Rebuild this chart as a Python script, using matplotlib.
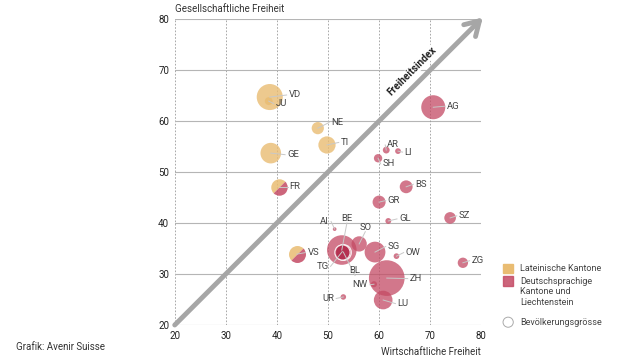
import numpy as np
import matplotlib
matplotlib.use("Agg")
import matplotlib.pyplot as plt
from matplotlib.markers import MarkerStyle
from matplotlib.transforms import Affine2D

plt.rcParams['font.family'] = ['Roboto', 'DejaVu Sans']

# --- data ---
# cantons: code, wirtschaftliche freiheit (x), gesellschaftliche freiheit (y), population (thousands)
latin = ["VD", "JU", "NE", "TI", "GE"]
latin_x = [38.6, 38.4, 48.0, 49.8, 38.8]
latin_y = [64.7, 63.9, 58.6, 55.3, 53.7]
latin_pop = [800, 73, 176, 350, 500]

german = ["AG", "AR", "LI", "SH", "BS", "GR", "GL", "SZ", "AI", "BE", "SO",
          "SG", "OW", "ZG", "ZH", "NW", "UR", "LU", "TG", "BL"]
german_x = [70.6, 61.4, 63.7, 59.8, 65.3, 60.0, 61.8, 73.9, 51.3, 52.7, 56.1,
            59.2, 63.4, 76.4, 61.5, 59.0, 53.0, 60.8, 52.8, 53.0]
german_y = [62.7, 54.3, 54.1, 52.7, 47.1, 44.1, 40.4, 41.0, 38.8, 34.7, 35.9,
            34.3, 33.5, 32.2, 29.2, 28.0, 25.5, 24.9, 34.4, 34.3]
german_pop = [680, 55, 39, 82, 195, 200, 40, 160, 16, 1030, 275,
              510, 38, 126, 1500, 43, 36, 410, 275, 290]

# bilingual cantons (half latin, half german)
mixed = ["FR", "VS"]
mixed_x = [40.4, 43.9]
mixed_y = [47.1, 33.9]
mixed_pop = [320, 340]

# label positions (x, y, alignment)
labels = {
    "VD": (42.3, 65.1, "left"), "JU": (39.8, 63.4, "left"), "NE": (50.6, 59.7, "left"),
    "TI": (52.5, 55.8, "left"), "GE": (42.0, 53.4, "left"), "FR": (42.5, 47.1, "left"),
    "VS": (46.0, 34.2, "left"), "AG": (73.3, 62.9, "left"), "AR": (61.6, 55.3, "left"),
    "LI": (65.0, 53.9, "left"), "SH": (60.7, 51.6, "left"), "BS": (67.1, 47.6, "left"),
    "GR": (61.7, 44.4, "left"), "GL": (63.9, 40.8, "left"), "SZ": (75.6, 41.4, "left"),
    "ZG": (78.1, 32.6, "left"), "OW": (65.2, 34.2, "left"), "SG": (61.7, 35.4, "left"),
    "SO": (57.3, 39.2, "center"), "BE": (53.7, 40.9, "center"), "AI": (50.2, 40.3, "right"),
    "TG": (50.1, 31.5, "right"), "BL": (55.3, 30.6, "center"), "ZH": (66.0, 29.1, "left"),
    "NW": (57.8, 27.9, "right"), "UR": (51.2, 25.2, "right"), "LU": (63.6, 24.2, "left"),
}

ORANGE = "#E9BC72"
RED = "#C44A64"
GREY = "#a6a6a6"
TXT = "#444444"

def size(pop):
    return 0.44 * np.asarray(pop)

fig = plt.figure(figsize=(6.4, 3.6), dpi=100)
ax = fig.add_axes([0.273, 0.0972, 0.479, 0.85])
ax.set_xlim(20, 80)
ax.set_ylim(20, 80)

ticks = [20, 30, 40, 50, 60, 70, 80]
for t in ticks:
    ax.axhline(t, color="#b5b5b5", lw=0.8, zorder=0)
    ax.axvline(t, color="#9a9a9a", lw=0.6, ls=(0, (2, 2)), zorder=0)
ax.set_xticks(ticks)
ax.set_yticks(ticks)
ax.tick_params(length=0, labelsize=7, colors="#222222", pad=4)
for s in ax.spines.values():
    s.set_visible(False)

# freiheitsindex arrow
ax.annotate("", xy=(80.3, 80.3), xytext=(20, 20), annotation_clip=False,
            arrowprops=dict(arrowstyle="->, head_length=1.0, head_width=0.6",
                            color=GREY, lw=3.5, shrinkA=0, shrinkB=0), zorder=1)
ax.text(66.5, 69.8, "Freiheitsindex", rotation=45, ha="center", va="center",
        fontsize=7.3, fontweight="bold", color="#222222", zorder=2,
        bbox=dict(fc="white", ec="none", pad=0.5))

# bubbles
big_first = np.argsort(latin_pop)[::-1]
ax.scatter(np.array(latin_x)[big_first], np.array(latin_y)[big_first],
           s=size(latin_pop)[big_first], color=ORANGE, alpha=0.8,
           edgecolors="none", zorder=3)
order = np.argsort(german_pop)[::-1]
gx = np.array(german_x)[order]
gy = np.array(german_y)[order]
gp = np.array(german_pop)[order]
gn = np.array(german)[order]
for x, y, p, n in zip(gx, gy, gp, gn):
    inner = n in ("TG", "BL")
    ax.scatter(x, y, s=size(p), color="#B53050" if inner else RED,
               alpha=0.85 if inner else 0.75,
               edgecolors="white" if inner else "none", linewidths=0.9, zorder=3)

half = MarkerStyle("o", fillstyle="top", transform=Affine2D().rotate_deg(45))
for x, y, p in zip(mixed_x, mixed_y, mixed_pop):
    ax.plot(x, y, marker=half, ms=np.sqrt(size(p)), markerfacecolor=ORANGE,
            markerfacecoloralt=RED, markeredgecolor="none",
            alpha=0.85, ls="none", zorder=3)

# labels with leader lines
all_x = dict(zip(latin + german + mixed, latin_x + german_x + mixed_x))
all_y = dict(zip(latin + german + mixed, latin_y + german_y + mixed_y))
for name, (lx, ly, ha) in labels.items():
    cx, cy = all_x[name], all_y[name]
    if ha == "left":
        ex = lx - 0.4
    elif ha == "right":
        ex = lx + 0.4
    else:
        ex = lx
    ey = ly - 0.9 if ha == "center" else ly
    ax.plot([cx, ex], [cy, ey], color="#c8c8c8", lw=0.7, zorder=4)
    ax.text(lx, ly, name, ha=ha, va="center", fontsize=6.8, color=TXT, zorder=5)

# axis titles
fig.text(0.273, 0.975, "Gesellschaftliche Freiheit", ha="left", va="center",
         fontsize=7, color="#333333")
fig.text(0.752, 0.022, "Wirtschaftliche Freiheit", ha="right", va="center",
         fontsize=7, color="#333333")
fig.text(0.025, 0.036, "Grafik: Avenir Suisse", ha="left", va="center",
         fontsize=7, color="#333333")

# legend
lg = dict(fontsize=6.5, color="#444444", va="center", ha="left")
fig.patches.append(plt.Rectangle((0.786, 0.241), 0.015, 0.027, color=ORANGE,
                                 transform=fig.transFigure, figure=fig))
fig.text(0.813, 0.255, "Lateinische Kantone", **lg)
fig.patches.append(plt.Rectangle((0.786, 0.205), 0.015, 0.027, color=RED,
                                 transform=fig.transFigure, figure=fig, alpha=0.85))
fig.text(0.813, 0.219, "Deutschsprachige", **lg)
fig.text(0.813, 0.189, "Kantone und", **lg)
fig.text(0.813, 0.159, "Liechtenstein", **lg)
fig.add_artist(matplotlib.patches.Ellipse((0.794, 0.105), 0.016, 0.028, fc="white",
                                          ec="#aaaaaa", lw=0.7, transform=fig.transFigure))
fig.text(0.813, 0.105, "Bevölkerungsgrösse", **lg)

fig.savefig("out.png", dpi=100)
